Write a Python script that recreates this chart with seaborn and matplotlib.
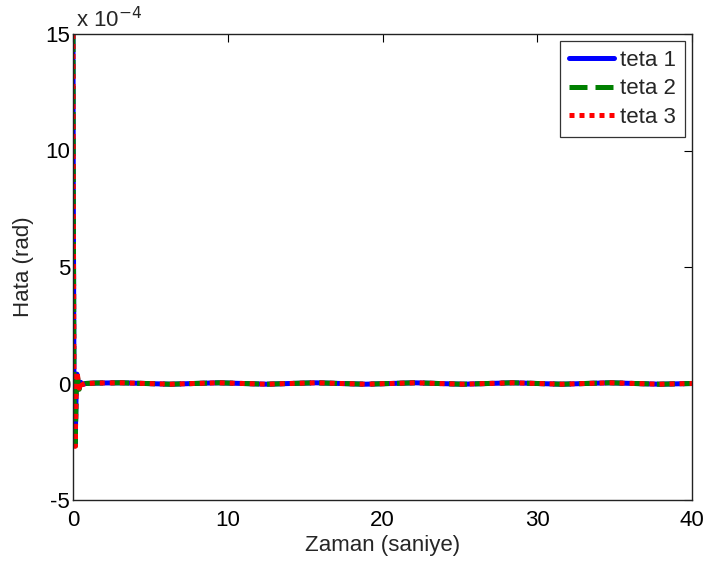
import numpy as np
import pandas as pd
import matplotlib
matplotlib.use("Agg")
import matplotlib.pyplot as plt
import seaborn as sns

# time (s)
t = [0.0, 0.02, 0.06, 0.10, 0.14, 0.18, 0.22, 0.26, 0.30, 0.35, 0.40, 0.45, 0.50, 0.60, 0.80,
     1.5, 3.1, 4.7, 6.3, 7.8, 9.4, 11.0, 12.5, 14.0, 15.7, 17.3, 18.9, 20.5, 22.1, 23.6,
     25.2, 26.8, 28.4, 30.0, 31.6, 33.1, 34.7, 36.3, 37.9, 40.0]
# errors in units of 1e-4 rad
teta1 = [15.0, 8.0, 0.5, -1.8, -2.6, -1.2, 0.2, 0.4, 0.2, -0.1, -0.2, 0.0, 0.05, -0.05, 0.0,
         0.02, 0.03, 0.0, -0.03, 0.0, 0.03, 0.0, -0.03, 0.0, 0.03, 0.0, -0.03, 0.0, 0.03, 0.0,
         -0.03, 0.0, 0.03, 0.0, -0.03, 0.0, 0.03, 0.0, -0.03, 0.0]
teta2 = [15.0, 7.5, 0.3, -2.0, -2.8, -1.4, 0.1, 0.45, 0.25, -0.1, -0.25, -0.05, 0.05, -0.05, 0.0,
         0.02, 0.03, 0.0, -0.03, 0.0, 0.03, 0.0, -0.03, 0.0, 0.03, 0.0, -0.03, 0.0, 0.03, 0.0,
         -0.03, 0.0, 0.03, 0.0, -0.03, 0.0, 0.03, 0.0, -0.03, 0.0]
teta3 = [15.0, 7.8, 0.4, -1.9, -2.7, -1.3, 0.15, 0.5, 0.3, -0.05, -0.2, -0.05, 0.05, -0.05, 0.0,
         0.02, 0.03, 0.0, -0.03, 0.0, 0.03, 0.0, -0.03, 0.0, 0.03, 0.0, -0.03, 0.0, 0.03, 0.0,
         -0.03, 0.0, 0.03, 0.0, -0.03, 0.0, 0.03, 0.0, -0.03, 0.0]
labels = ["teta 1", "teta 2", "teta 3"]
colors = ["#0000ff", "#008000", "#ff0000"]
styles = ["-", (0, (3.6, 1.6)), (0, (1, 1))]

sns.set_style("white")
plt.rcParams["font.family"] = ["Liberation Sans", "DejaVu Sans"]
plt.rcParams["axes.unicode_minus"] = False

fig = plt.figure(figsize=(7.06, 5.67), dpi=100)
ax = fig.add_axes([73/706, 1 - 500/567, (692-73)/706, (500-34)/567])

df = pd.DataFrame({"t": t, "teta 1": teta1, "teta 2": teta2, "teta 3": teta3})
for lab, col, ls in zip(labels, colors, styles):
    sns.lineplot(data=df, x="t", y=lab, ax=ax, color=col, linewidth=3.6,
                 linestyle=ls, label=lab, estimator=None, sort=False)

ax.set_xlim(0, 40)
ax.set_ylim(-5, 15)
ax.set_xticks([0, 10, 20, 30, 40])
ax.set_yticks([-5, 0, 5, 10, 15])
ax.tick_params(direction="in", length=6, width=0.8, top=True, right=True,
               labelsize=16, colors="black", pad=2)
ax.tick_params(axis="x", pad=7)
for s in ax.spines.values():
    s.set_color("#222222")
    s.set_linewidth(1.0)
ax.set_xlabel("Zaman (saniye)", fontsize=16, labelpad=3)
ax.set_ylabel("Hata (rad)", fontsize=16, labelpad=8)
ax.text(0.005, 1.004, r"x 10$^{-4}$", transform=ax.transAxes, fontsize=16,
        ha="left", va="bottom")

leg = ax.legend(loc="upper right", fontsize=16, frameon=True, fancybox=False,
                edgecolor="black", handlelength=2.0, borderaxespad=0.3,
                labelspacing=0.35, handletextpad=0.3, borderpad=0.4)
leg.get_frame().set_linewidth(0.9)

fig.savefig("out.png", dpi=100)
